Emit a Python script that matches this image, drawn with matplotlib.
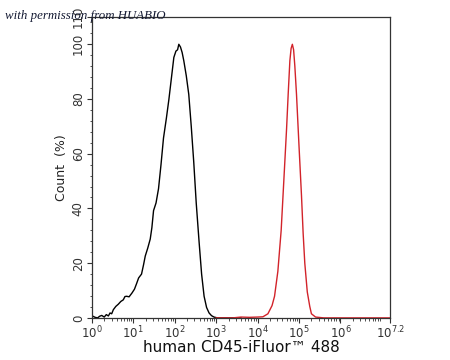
import numpy as np
import matplotlib
matplotlib.use("Agg")
import matplotlib.pyplot as plt
from matplotlib.ticker import FixedLocator, MultipleLocator

# black histogram (unstained / control), x in log10 units, y in % of max
black_x = [0.00, 0.08, 0.14, 0.19, 0.24, 0.30, 0.35, 0.40, 0.44, 0.48, 0.52, 0.58,
           0.64, 0.70, 0.76, 0.80, 0.84, 0.90, 0.97, 1.03, 1.08, 1.13, 1.20, 1.25,
           1.29, 1.35, 1.41, 1.45, 1.49, 1.55, 1.61, 1.67, 1.73, 1.80, 1.86, 1.92,
           1.98, 2.03, 2.07, 2.10, 2.14, 2.18, 2.22, 2.28, 2.34, 2.40, 2.46, 2.52,
           2.59, 2.65, 2.71, 2.77, 2.83, 2.89, 2.95, 3.03, 3.20, 3.60]
black_y = [0.8, 0.2, 0.0, 0.6, 0.9, 0.3, 1.2, 0.7, 1.8, 1.5, 3.0, 4.2,
           5.0, 6.0, 6.6, 7.8, 7.9, 7.7, 9.1, 10.5, 12.5, 14.6, 16.0, 19.5,
           22.6, 25.5, 28.8, 33.0, 39.2, 42.0, 47.2, 56.0, 65.7, 73.0, 79.8, 87.5,
           95.2, 97.5, 98.0, 100.0, 99.0, 97.0, 94.0, 88.5, 81.7, 70.0, 57.0, 42.0,
           27.6, 16.0, 7.9, 3.8, 1.8, 0.8, 0.3, 0.0, 0.0, 0.0]

# red histogram (human CD45-iFluor 488)
red_x = [3.00, 3.40, 3.60, 3.80, 4.00, 4.13, 4.25, 4.35, 4.41, 4.49, 4.57, 4.63,
         4.70, 4.74, 4.78, 4.81, 4.84, 4.87, 4.90, 4.94, 5.00, 5.06, 5.10, 5.14,
         5.20, 5.26, 5.30, 5.40, 5.60, 7.20]
red_y = [0.0, 0.0, 0.3, 0.2, 0.3, 0.4, 1.5, 4.5, 7.9, 17.0, 32.0, 49.0,
         69.0, 82.0, 94.0, 98.5, 100.0, 98.0, 92.0, 81.7, 63.0, 44.8, 31.0, 20.0,
         9.5, 4.2, 1.5, 0.3, 0.0, 0.0]

x_ticks = [0, 1, 2, 3, 4, 5, 6, 7.2]
x_labels = ["$10^{0}$", "$10^{1}$", "$10^{2}$", "$10^{3}$", "$10^{4}$",
            "$10^{5}$", "$10^{6}$", "$10^{7.2}$"]
y_ticks = [0, 20, 40, 60, 80, 100, 110]
y_labels = ["0", "20", "40", "60", "80", "100", "110"]

fig = plt.figure(figsize=(4.5, 3.6), dpi=100)
ax = fig.add_axes([0.204, 0.117, 0.663, 0.836])

ax.plot(black_x, black_y, color="black", lw=1.0)
ax.plot(red_x, red_y, color="#d2232a", lw=1.0)

ax.set_xlim(0, 7.2)
ax.set_ylim(0, 110)

# log-style minor ticks
minor = [np.log10(k) + n for n in range(0, 8) for k in range(2, 10)
         if np.log10(k) + n < 7.2]
ax.xaxis.set_major_locator(FixedLocator(x_ticks))
ax.xaxis.set_minor_locator(FixedLocator(minor))
ax.set_xticklabels(x_labels)
ax.yaxis.set_major_locator(FixedLocator(y_ticks))
ax.yaxis.set_minor_locator(MultipleLocator(4))
ax.set_yticklabels(y_labels, rotation=90, va="center")

ax.tick_params(which="major", direction="out", length=3.5, width=0.8,
               labelsize=8.5, colors="#333333", pad=1.5)
ax.tick_params(which="minor", direction="out", length=1.8, width=0.6,
               colors="#333333")
for s in ax.spines.values():
    s.set_color("#333333")
    s.set_linewidth(0.9)

ax.set_ylabel("Count  (%)", fontsize=9, color="#222222", labelpad=3)
ax.set_xlabel("human CD45-iFluor\u2122 488", fontsize=11, color="#111111",
              labelpad=-1)

fig.text(0.012, 0.948, "with permission from HUABIO", fontsize=9.3,
         family="Liberation Serif", style="italic", color="#141a33")

fig.savefig("out.png", dpi=100)
